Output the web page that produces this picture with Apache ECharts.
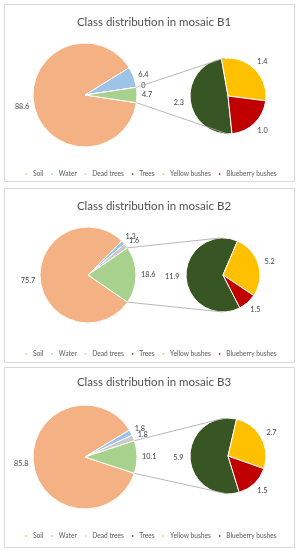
<!DOCTYPE html>
<html>
<head>
<meta charset="utf-8">
<script src="https://cdn.jsdelivr.net/npm/echarts@6/dist/echarts.min.js"></script>
<style>
html,body{margin:0;padding:0;background:#fff;}
#chart{width:300px;height:550px;}
</style>
</head>
<body>
<div id="chart"></div>
<script>
// ---- data (percent of mosaic area) ----
const classes = ['Soil', 'Water', 'Dead trees', 'Trees', 'Yellow bushes', 'Blueberry bushes'];
const mosaics = ['B1', 'B2', 'B3'];
const soil = [88.6, 75.7, 85.8];
const water = [6.4, 1.3, 1.8];
const deadTrees = [0, 1.6, 1.8];
const otherTotal = [4.7, 18.6, 10.1];   // the "other" slice = trees + bushes
const trees = [2.3, 11.9, 5.9];
const yellowBushes = [1.4, 5.2, 2.7];
const blueberryBushes = [1.0, 1.5, 1.5];

// ---- styles / layout ----
const colors = {
  'Soil': '#F4B183', 'Water': '#9DC3E6', 'Dead trees': '#C9C9C9', 'Other': '#A9D18E',
  'Trees': '#375623', 'Yellow bushes': '#FFC000', 'Blueberry bushes': '#C00000'
};
const FONT = 'Lato';
const panels = [
  {box: [4, 4, 290, 177], titleY: 18, cy: 95, cx1: 85, r1: 52, cx2: 228, cy2: 96, r2: 38, rot2: 8, legendY: 170},
  {box: [4, 188, 290, 174], titleY: 202, cy: 275, cx1: 88, r1: 48, cx2: 223, cy2: 275, r2: 37, rot2: 2, legendY: 350},
  {box: [4, 367, 290, 180], titleY: 378, cy: 457, cx1: 85, r1: 52, cx2: 228, cy2: 456, r2: 38, rot2: 2, legendY: 532}
];
const GAP1 = 5, GAP2 = 6.5;

function fmt(p) { return p.value === 0 ? '0' : p.value.toFixed(1); }

const titles = [], legends = [], series = [], graphics = [], geo = [];

function midAngles(arr, start) {
  const tot = arr.reduce((s, d) => s + d.value, 0);
  let cum = 0;
  return arr.map(d => { const m = start - 360 * (cum + d.value / 2) / tot; cum += d.value; return m; });
}

function excelLabelLayout(params) {
  const g = geo[params.seriesIndex];
  const a = g.mids[params.dataIndex] * Math.PI / 180;
  const ux = Math.cos(a), uy = -Math.sin(a);
  const w = params.labelRect.width, h = params.labelRect.height;
  return {
    x: g.cx + (g.r + g.gap) * ux + w / 2 * ux,
    y: g.cy + (g.r + g.gap) * uy + h / 2 * uy,
    align: 'center', verticalAlign: 'middle', hideOverlap: false
  };
}

panels.forEach(function (pn, i) {
  graphics.push({
    type: 'rect', z: -10, silent: true,
    shape: {x: pn.box[0] + 0.5, y: pn.box[1] + 0.5, width: pn.box[2], height: pn.box[3]},
    style: {fill: '#fff', stroke: '#D9D9D9', lineWidth: 1}
  });
  titles.push({
    text: 'Class distribution in mosaic ' + mosaics[i],
    left: pn.box[0] + pn.box[2] / 2, textAlign: 'center', top: pn.titleY - 7,
    textStyle: {fontFamily: FONT, fontSize: 11.5, fontWeight: 'normal', color: '#505050'}
  });
  legends.push({
    data: classes, top: pn.legendY - 4.5, left: 'center',
    icon: 'rect', itemWidth: 3.5, itemHeight: 3.5, itemGap: 6,
    textStyle: {fontFamily: FONT, fontSize: 6.6, color: '#595959'},
    selectedMode: false
  });

  const primary = [
    {name: 'Soil', value: soil[i]},
    {name: 'Water', value: water[i]},
    {name: 'Dead trees', value: deadTrees[i]},
    {name: 'Other', value: otherTotal[i]}
  ];
  const secondary = [
    {name: 'Trees', value: trees[i]},
    {name: 'Yellow bushes', value: yellowBushes[i]},
    {name: 'Blueberry bushes', value: blueberryBushes[i]}
  ];
  const total1 = primary.reduce((s, d) => s + d.value, 0);
  const total2 = secondary.reduce((s, d) => s + d.value, 0);
  // other slice centred on the right (0 deg)
  const start1 = 360 * (soil[i] + water[i] + deadTrees[i] + otherTotal[i] / 2) / total1;
  // first slice of the secondary pie centred on the left
  const start2 = 180 + pn.rot2 + 180 * trees[i] / total2;

  [primary, secondary].forEach(arr => arr.forEach(d => { d.itemStyle = {color: colors[d.name]}; }));

  geo.push({cx: pn.cx1, cy: pn.cy, r: pn.r1, gap: GAP1, mids: midAngles(primary, start1)});
  geo.push({cx: pn.cx2, cy: pn.cy2, r: pn.r2, gap: GAP2, mids: midAngles(secondary, start2)});

  const common = {
    type: 'pie', clockwise: true, avoidLabelOverlap: false, animation: false,
    itemStyle: {borderColor: '#fff', borderWidth: 1},
    label: {position: 'outside', formatter: fmt, fontFamily: FONT, fontSize: 7.3, color: '#404040'},
    labelLine: {show: false, length: 3, length2: 0},
    labelLayout: excelLabelLayout,
    emphasis: {disabled: true}
  };
  series.push(Object.assign({}, common, {
    center: [pn.cx1, pn.cy], radius: pn.r1, startAngle: start1, data: primary
  }));
  series.push(Object.assign({}, common, {
    center: [pn.cx2, pn.cy2], radius: pn.r2, startAngle: start2, data: secondary
  }));

  // connector lines from the edges of the "other" slice to the secondary pie
  const h = Math.PI * otherTotal[i] / total1;
  const px = pn.cx1 + pn.r1 * Math.cos(h);
  const dy = pn.r1 * Math.sin(h);
  graphics.push({
    type: 'line', z: 5, silent: true,
    shape: {x1: px, y1: pn.cy - dy, x2: pn.cx2 - 3, y2: pn.cy2 - pn.r2},
    style: {stroke: '#A6A6A6', lineWidth: 0.8}
  });
  graphics.push({
    type: 'line', z: 5, silent: true,
    shape: {x1: px, y1: pn.cy + dy, x2: pn.cx2, y2: pn.cy2 + pn.r2},
    style: {stroke: '#A6A6A6', lineWidth: 0.8}
  });
});

const chart = echarts.init(document.getElementById('chart'), null, {renderer: 'canvas'});
chart.setOption({
  backgroundColor: '#fff',
  animation: false,
  title: titles,
  legend: legends,
  graphic: graphics,
  series: series
});
</script>
</body>
</html>
